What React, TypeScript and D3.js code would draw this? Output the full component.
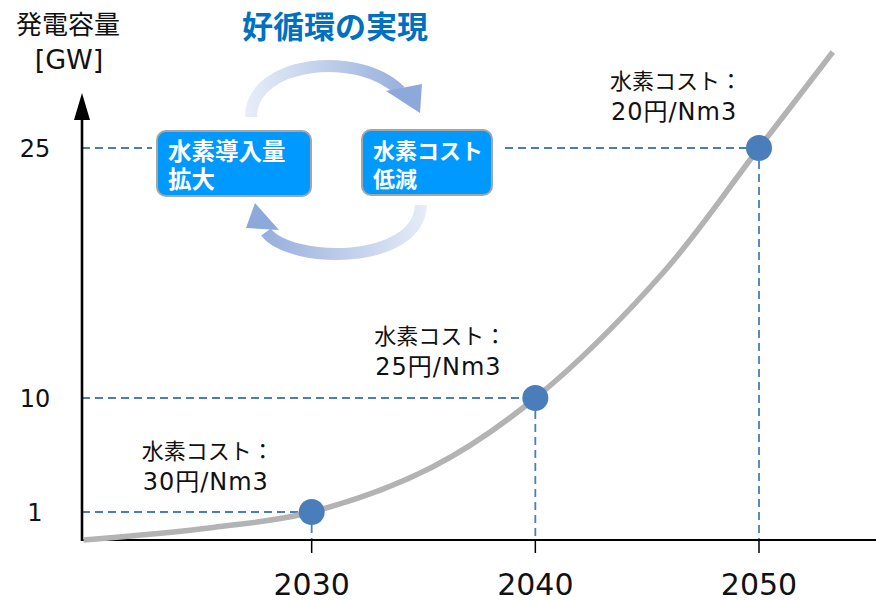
import React from "react";
import * as d3 from "d3";

// ---- data ----
const years = [2030, 2040, 2050];
const capacityGW = [1, 10, 25];
const costLabels = ["30円/Nm3", "25円/Nm3", "20円/Nm3"];
const costTitle = "水素コスト：";
const yTickValues = [1, 10, 25];
const xTickValues = [2030, 2040, 2050];
const curveYears = [2019.8, 2025.6, 2030, 2035.4, 2040, 2045.7, 2050, 2053.3];
const curveValues = [0, 0.45, 1, 4.55, 10, 17.5, 25, 30.76];
const yTitle = ["発電容量", "[GW]"];
const cycleTitle = "好循環の実現";
const boxA = ["水素導入量", "拡大"];
const boxB = ["水素コスト", "低減"];

const W = 876;
const H = 601;
const FONT = "'DejaVu Sans', 'Noto Sans CJK JP', sans-serif";
const BLUE = "#4A7EBB";

export default function App() {
  const axisX = 82;
  const axisY = 540;
  const x = d3.scaleLinear().domain([2020, 2050]).range([88, 759]);
  const y = d3.scaleLinear().domain([0, 1, 10, 25]).range([axisY, 512, 398, 148]);

  const curvePts: [number, number][] = curveYears.map((yr, i) => [x(yr), y(curveValues[i])]);
  const line = d3.line().curve(d3.curveCatmullRom.alpha(0.5))(curvePts) || "";

  // label offsets relative to each point (layout)
  const labelOffsets = [
    [-170, -53],
    [-161, -54],
    [-149, -59],
  ];

  return (
    <svg
      width={W}
      height={H}
      style={{ position: "absolute", left: 0, top: 0, background: "#fff" }}
      fontFamily={FONT}
    >
      <defs>
        <linearGradient id="gTop" gradientUnits="userSpaceOnUse" x1={245} y1={0} x2={425} y2={0}>
          <stop offset="0" stopColor="#E8EDF8" />
          <stop offset="1" stopColor="#8DA8DA" />
        </linearGradient>
        <linearGradient id="gBot" gradientUnits="userSpaceOnUse" x1={430} y1={0} x2={245} y2={0}>
          <stop offset="0" stopColor="#E8EDF8" />
          <stop offset="1" stopColor="#8DA8DA" />
        </linearGradient>
      </defs>

      {/* Y title */}
      <text x={68} y={34} textAnchor="middle" fontSize={26} fill="#111">{yTitle[0]}</text>
      <text x={69} y={69} textAnchor="middle" fontSize={27} fill="#111">{yTitle[1]}</text>

      {/* cycle title */}
      <text x={335} y={38} textAnchor="middle" fontSize={31} fontWeight="bold" fill="#0070C0">{cycleTitle}</text>

      {/* dashed guide lines */}
      {years.map((yr, i) => {
        const px = x(yr);
        const py = y(capacityGW[i]);
        const isTop = i === 2;
        return (
          <g key={"g" + yr} stroke={BLUE} strokeWidth={1.8} strokeDasharray="8,5" fill="none">
            {isTop ? (
              <>
                <line x1={axisX} x2={152} y1={py} y2={py} />
                <line x1={505} x2={px} y1={py} y2={py} />
              </>
            ) : (
              <line x1={axisX} x2={px} y1={py} y2={py} />
            )}
            <line x1={px} x2={px} y1={py} y2={axisY} />
          </g>
        );
      })}

      {/* axes */}
      <line x1={axisX} x2={W} y1={axisY} y2={axisY} stroke="#000" strokeWidth={2} />
      <line x1={axisX} x2={axisX} y1={axisY + 1} y2={118} stroke="#000" strokeWidth={2.6} />
      <polygon points={`${axisX - 8},120 ${axisX + 8},120 ${axisX},93`} fill="#000" />
      {xTickValues.map((t) => (
        <g key={"xt" + t}>
          <line x1={x(t)} x2={x(t)} y1={axisY} y2={axisY + 13} stroke="#000" strokeWidth={1.5} />
          <text x={x(t)} y={595} textAnchor="middle" fontSize={30} fill="#111">{t}</text>
        </g>
      ))}
      {yTickValues.map((t) => (
        <text key={"yt" + t} x={35} y={y(t) + 9} textAnchor="middle" fontSize={24} fill="#111">{t}</text>
      ))}

      {/* curve */}
      <path d={line} fill="none" stroke="#B3B3B3" strokeWidth={5.5} strokeLinecap="butt" />

      {/* points */}
      {years.map((yr, i) => (
        <circle key={"c" + yr} cx={x(yr)} cy={y(capacityGW[i])} r={13} fill={BLUE} />
      ))}

      {/* cost labels */}
      {years.map((yr, i) => {
        const lx = x(yr) + labelOffsets[i][0];
        const ly = y(capacityGW[i]) + labelOffsets[i][1];
        return (
          <g key={"l" + yr} fill="#111">
            <text x={lx} y={ly} fontSize={22}>{costTitle}</text>
            <text x={lx + 1} y={ly + 31} fontSize={24} letterSpacing={1}>{costLabels[i]}</text>
          </g>
        );
      })}

      {/* cycle arrows */}
      <path d="M251,117 C251,60 360,50 400,91" fill="none" stroke="url(#gTop)" strokeWidth={12} />
      <polygon points="386,91 422,84 420,113" fill="#8DA8DA" />
      <path d="M421,205 C418,266 290,264 266,232" fill="none" stroke="url(#gBot)" strokeWidth={12} />
      <polygon points="246,228 255,203 279,230" fill="#8DA8DA" />

      {/* boxes */}
      <rect x={157} y={131} width={154} height={65} rx={9} fill="#0099FF" stroke="#A6A6A6" strokeWidth={2} />
      <text x={168} y={160} fontSize={23.5} fontWeight="bold" fill="#fff">{boxA[0]}</text>
      <text x={168} y={188} fontSize={23.5} fontWeight="bold" fill="#fff">{boxA[1]}</text>
      <rect x={362} y={130} width={130} height={65} rx={9} fill="#0099FF" stroke="#A6A6A6" strokeWidth={2} />
      <text x={373} y={159} fontSize={22} fontWeight="bold" fill="#fff">{boxB[0]}</text>
      <text x={373} y={187} fontSize={22} fontWeight="bold" fill="#fff">{boxB[1]}</text>
    </svg>
  );
}
